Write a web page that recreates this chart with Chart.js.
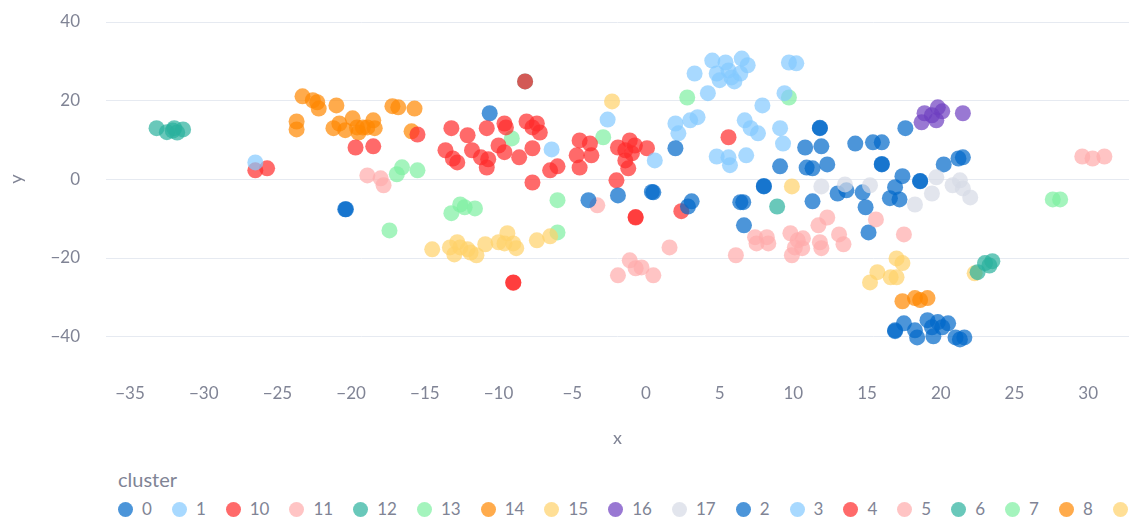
<!DOCTYPE html>
<html>
<head>
<meta charset="utf-8">
<script src="https://cdn.jsdelivr.net/npm/chart.js@4"></script>
<style>
  body { margin: 0; background: #fff; font-family: Lato, sans-serif; }
  #wrap { position: relative; width: 1129px; height: 518px; overflow: hidden; }
  #legend { position: absolute; left: 118px; top: 466px; width: 1011px; overflow: hidden; white-space: nowrap; color: #808495; }
  #legend .title { font-size: 20px; line-height: 26px; height: 26px; }
  #legend .items { margin-top: 7px; font-size: 17px; line-height: 20px; }
  #legend .item { display: inline-flex; align-items: center; margin-right: 20px; }
  #legend .dot { width: 15px; height: 15px; border-radius: 50%; margin-right: 9px; }
</style>
</head>
<body>
<div id="wrap">
  <canvas id="chart" width="1129" height="460"></canvas>
  <div id="legend">
    <div class="title">cluster</div>
    <div class="items" id="items"></div>
  </div>
</div>
<script>
// points of each cluster, [x, y]
const cluster0 = [[16.9,-38.6],[16.9,-38.4],[17.5,-36.6],[18.25,-38.4],[18.4,-40.2],[19.1,-35.8],[19.4,-37.6],[19.8,-36.3],[20.5,-36.6],[19.5,-39.9],[21.0,-40.2],[21.6,-40.2],[21.3,-40.7],[20.1,-37.6]];
const cluster1 = [[4.2,21.9],[3.3,26.9],[4.5,30.2],[5.4,29.7],[6.5,30.7],[6.9,29.0],[4.8,26.9],[5.0,25.2],[5.8,25.9],[6.0,24.9],[5.6,27.7],[6.4,26.9],[9.7,29.7],[10.2,29.5],[9.4,21.9],[-26.5,4.3]];
const cluster10 = [[-26.5,2.3],[-25.7,2.8],[-19.7,8.1],[-18.5,8.4],[-15.5,11.4],[-13.2,13.0],[-12.1,11.2],[-13.6,7.4],[-13.1,5.3],[-12.8,4.3],[-11.8,7.4],[-11.2,5.6],[-10.7,5.1],[-10.8,3.0],[-10.8,13.0],[-9.6,14.2],[-9.5,13.2],[-10.0,8.6],[-9.6,6.9],[-8.6,5.6],[-8.1,14.7],[-7.7,13.2],[-7.4,14.2],[-7.2,11.9],[-7.7,7.9],[-7.7,-0.8],[-9.0,-26.2],[-9.0,-26.3],[-8.2,24.9]];
const cluster11 = [[6.1,-19.3],[7.4,-14.7],[8.2,-14.7],[7.5,-16.3],[8.3,-16.3],[9.8,-13.7],[10.3,-15.5],[10.65,-15.0],[10.1,-17.3],[10.6,-17.5],[9.9,-19.3],[11.8,-16.0],[11.9,-17.5],[11.7,-11.7],[12.3,-9.7],[13.1,-14.0],[13.4,-16.5],[15.6,-10.2],[17.5,-14.0]];
const cluster12 = [[-33.2,13.0],[-32.5,12.0],[-32.0,13.0],[-31.8,11.9],[-31.4,12.7],[-32.1,12.4]];
const cluster13 = [[-16.55,3.05],[-16.9,1.3],[-15.5,2.3],[-12.6,-6.4],[-13.2,-8.6],[-11.6,-7.4],[-12.3,-7.1],[-17.4,-13.0]];
const cluster14 = [[-23.3,21.1],[-22.6,20.1],[-22.3,19.6],[-22.2,18.0],[-21.0,18.8],[-23.7,14.7],[-23.7,12.7],[-21.2,13.0],[-20.8,14.2],[-20.4,12.5],[-19.9,15.5],[-19.6,13.2],[-19.5,11.9],[-18.9,13.2],[-18.5,15.0],[-18.4,13.0],[-19.2,13.2],[-17.2,18.6],[-16.8,18.3],[-15.7,18.0],[-15.9,12.2]];
const cluster15 = [[-14.5,-17.8],[-13.3,-17.3],[-12.8,-16.0],[-13.0,-19.1],[-12.6,-17.3],[-12.1,-17.8],[-11.9,-18.6],[-11.5,-19.3],[-10.9,-16.5],[-10.0,-16.0],[-9.4,-13.7],[-9.6,-16.3],[-9.0,-16.3],[-8.8,-17.5],[-7.4,-15.5],[-6.5,-14.5]];
const cluster16 = [[18.9,16.8],[18.7,14.5],[19.8,18.3],[20.1,17.3],[19.7,15.0],[19.4,16.3],[21.5,16.8]];
const cluster17 = [[11.9,-1.8],[13.5,-1.3],[15.2,-1.5],[18.25,-6.4],[19.4,-3.6],[19.7,0.5],[20.8,-1.5],[21.3,-0.25],[21.5,-2.3],[22.0,-4.6]];
const cluster2 = [[-20.35,-7.6],[-20.4,-7.6],[-10.6,16.8],[-3.9,-5.3],[-1.9,-4.1],[0.5,-3.3],[0.4,-3.2],[2.0,7.9],[3.1,-5.6],[2.85,-6.9],[6.6,-5.8],[6.4,-5.8],[6.65,-11.7],[8.0,-1.8],[8.0,-1.7],[9.1,3.3],[10.8,8.1],[11.8,13.0],[11.8,13.1],[11.9,8.4],[10.9,3.0],[11.3,2.8],[12.3,3.8],[11.3,-5.6],[13.0,-3.6],[13.6,-2.8],[14.7,-3.3],[14.9,-7.1],[15.1,-13.5],[14.2,9.1],[15.4,9.4],[16.0,9.4],[16.0,3.8],[16.0,3.9],[17.6,13.0],[17.4,0.8],[18.6,-0.5],[18.6,-0.4],[16.9,-2.0],[16.55,-4.8],[17.2,-5.1],[20.2,3.8],[21.2,5.3],[21.5,5.6]];
const cluster3 = [[-6.4,7.6],[-2.6,15.2],[0.6,4.8],[2.0,14.2],[2.2,11.7],[3.0,15.0],[3.5,15.8],[7.9,18.8],[6.7,15.0],[7.1,13.0],[7.6,11.7],[9.1,13.0],[9.3,9.1],[4.8,5.8],[5.6,5.6],[5.7,3.6],[6.8,6.1]];
const cluster4 = [[-6.5,2.3],[-6.0,3.3],[-4.5,9.9],[-3.8,9.1],[-4.7,6.1],[-3.7,6.1],[-4.5,3.0],[-1.9,8.1],[-1.1,9.9],[-1.4,7.4],[-0.95,6.6],[0.07,7.9],[-1.2,2.8],[-2.0,-0.25],[-1.4,4.8],[-0.75,8.6],[-0.7,-9.7],[-0.7,-9.6],[2.4,-8.1],[5.6,10.7]];
const cluster5 = [[-18.9,1.0],[-18.0,0.25],[-17.8,-1.5],[-3.3,-6.6],[1.6,-17.3],[-1.1,-20.6],[-0.7,-22.6],[-0.3,-22.4],[-1.9,-24.4],[0.5,-24.4],[29.6,5.8],[30.3,5.3],[31.1,5.8]];
const cluster6 = [[8.9,-6.9],[22.5,-23.6],[23.0,-21.3],[23.5,-20.8],[23.3,-21.9],[-8.2,24.9]];
const cluster7 = [[-9.1,10.4],[-6.0,-5.3],[-6.0,-13.5],[-2.9,10.7],[2.8,20.8],[9.7,20.8],[27.6,-5.1],[28.1,-5.1]];
const cluster8 = [[17.4,-31.0],[18.25,-30.2],[18.6,-30.7],[19.1,-30.2]];
const cluster9 = [[-2.3,19.8],[9.9,-1.8],[17.0,-20.1],[17.4,-21.3],[15.7,-23.6],[15.2,-26.2],[16.6,-24.9],[17.0,-24.9],[22.3,-23.9]];

// legend order (sorted as text)
const clusterNames = ['0','1','10','11','12','13','14','15','16','17','2','3','4','5','6','7','8','9'];
const clusterPoints = [cluster0, cluster1, cluster10, cluster11, cluster12, cluster13, cluster14, cluster15, cluster16, cluster17,
                       cluster2, cluster3, cluster4, cluster5, cluster6, cluster7, cluster8, cluster9];
const palette = ['0,104,201','131,201,255','255,43,43','255,171,171','41,176,157','125,239,161','255,135,0','255,209,106','109,63,192','213,218,229'];

const xTicksMin = -36.63;
const xTicksMax = 32.77;
const yTicksMin = -50;
const yTicksMax = 40;

const grey = '#808495';
const minus = v => String(v).replace('-', '\u2212');

let datasets = clusterNames.map(function (name, i) {
    let color = 'rgba(' + palette[i % palette.length] + ',0.7)';
    return {
        label: name,
        data: clusterPoints[i].map(p => ({x: p[0], y: p[1]})),
        backgroundColor: color,
        borderWidth: 0,
        pointRadius: 8,
        pointHoverRadius: 8
    };
});

// y title sits a bit higher than the middle of the axis in the original
const yTitle = {
    id: 'yTitle',
    afterDraw(chart) {
        const c = chart.ctx;
        const area = chart.chartArea;
        c.save();
        c.translate(16, (area.top + area.bottom) / 2 - 20);
        c.rotate(-Math.PI / 2);
        c.fillStyle = grey;
        c.font = '18px Lato';
        c.textAlign = 'center';
        c.textBaseline = 'middle';
        c.fillText('y', 0, 0);
        c.restore();
    }
};

const ctx = document.getElementById('chart');

new Chart(ctx, {
    type: 'scatter',
    data: { datasets: datasets },
    plugins: [yTitle],
    options: {
        responsive: false,
        animation: false,
        events: [],
        layout: { autoPadding: false, padding: { top: 22, right: 0, bottom: 0, left: 0 } },
        plugins: { legend: { display: false }, tooltip: { enabled: false } },
        scales: {
            x: {
                type: 'linear',
                min: xTicksMin,
                max: xTicksMax,
                grid: { display: false, drawTicks: false },
                border: { display: false },
                ticks: { stepSize: 5, includeBounds: false, color: grey, font: { family: 'Lato', size: 17 }, padding: 7, maxRotation: 0, callback: minus },
                title: { display: true, text: 'x', color: grey, font: { family: 'Lato', size: 18 }, padding: { top: 0, bottom: 11 } },
                afterFit: s => { s.height = 84; s.paddingLeft = 0; s.paddingRight = 0; }
            },
            y: {
                min: yTicksMin,
                max: yTicksMax,
                grid: { color: '#e6eaf1', drawTicks: false },
                border: { display: false },
                ticks: { stepSize: 20, includeBounds: false, color: grey, font: { family: 'Lato', size: 17 }, padding: 26, callback: minus },
                afterFit: s => { s.width = 106; s.paddingTop = 0; s.paddingBottom = 0; }
            }
        }
    }
});

// html legend in one row, cut at the right edge like the original
const items = document.getElementById('items');
datasets.forEach(function (d) {
    let item = document.createElement('span');
    item.className = 'item';
    let dot = document.createElement('span');
    dot.className = 'dot';
    dot.style.background = d.backgroundColor;
    let txt = document.createElement('span');
    txt.textContent = d.label;
    item.appendChild(dot);
    item.appendChild(txt);
    items.appendChild(item);
});
</script>
</body>
</html>
